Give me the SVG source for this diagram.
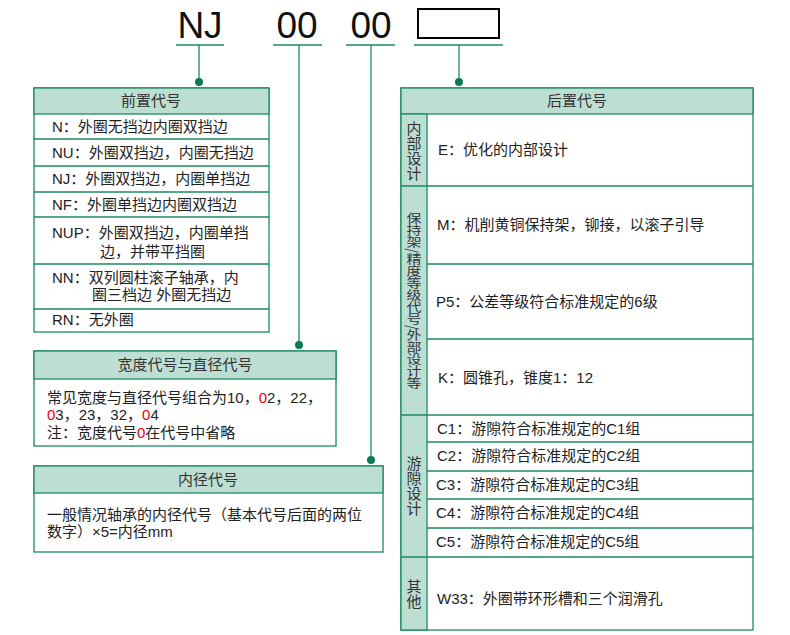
<svg xmlns="http://www.w3.org/2000/svg" width="790" height="635" viewBox="0 0 790 635">
<style>
.big{font-family:"Liberation Sans",Arial,sans-serif;font-size:37px;fill:#111;text-anchor:middle}
.t{font-family:"Liberation Sans","Noto Sans CJK SC",sans-serif;font-size:15px;fill:#222}
.h{font-family:"Noto Sans CJK SC","Noto Sans",sans-serif;font-size:15px;fill:#333;text-anchor:middle}
.v{font-family:"Noto Sans CJK SC","Noto Sans",sans-serif;font-size:15px;fill:#333;text-anchor:middle;writing-mode:tb}
.red{fill:#e60012}
.box{fill:#fff;stroke:#1b8a63;stroke-width:1.3}
.hd{fill:#bddfd3;stroke:#1b8a63;stroke-width:1.3}
.ln{stroke:#1b8a63;stroke-width:1.3;fill:none}
.dot{fill:#0d7a55}
</style>
<rect width="790" height="635" fill="#fff"/>
<g id="code">
<text class="big" x="200" y="38">NJ</text>
<text class="big" x="297" y="38">00</text>
<text class="big" x="371" y="38">00</text>
<rect x="418" y="9" width="81" height="29" fill="none" stroke="#000" stroke-width="2"/>
</g>
<g id="connectors">
<line class="ln" x1="176" y1="45" x2="224" y2="45"/>
<line class="ln" x1="273" y1="45" x2="322" y2="45"/>
<line class="ln" x1="346" y1="45" x2="395" y2="45"/>
<line class="ln" x1="414" y1="45" x2="503" y2="45"/>
<line class="ln" x1="199" y1="45" x2="199" y2="82"/>
<line class="ln" x1="299" y1="45" x2="299" y2="345"/>
<line class="ln" x1="371" y1="45" x2="371" y2="460"/>
<line class="ln" x1="459" y1="45" x2="459" y2="82"/>
<circle class="dot" cx="199" cy="82" r="4"/>
<circle class="dot" cx="299" cy="345" r="4"/>
<circle class="dot" cx="371" cy="460" r="4"/>
<circle class="dot" cx="459" cy="82" r="4"/>
</g>
<g id="prefix">
<rect class="box" x="34" y="88" width="235" height="244"/>
<rect class="hd" x="34" y="88" width="235" height="26"/>
<text class="h" x="151" y="106">前置代号</text>
<line class="ln" x1="34" y1="139" x2="269" y2="139"/>
<line class="ln" x1="34" y1="166" x2="269" y2="166"/>
<line class="ln" x1="34" y1="192" x2="269" y2="192"/>
<line class="ln" x1="34" y1="217" x2="269" y2="217"/>
<line class="ln" x1="34" y1="264" x2="269" y2="264"/>
<line class="ln" x1="34" y1="309" x2="269" y2="309"/>
<text class="t" x="52" y="132">N：外圈无挡边内圈双挡边</text>
<text class="t" x="52" y="158">NU：外圈双挡边，内圈无挡边</text>
<text class="t" x="52" y="184">NJ：外圈双挡边，内圈单挡边</text>
<text class="t" x="52" y="210">NF：外圈单挡边内圈双挡边</text>
<text class="t"><tspan x="52" y="238">NUP：外圈双挡边，内圈单挡</tspan><tspan x="100" y="257">边，并带平挡圈</tspan></text>
<text class="t"><tspan x="52" y="283">NN：双列圆柱滚子轴承，内</tspan><tspan x="92" y="300">圈三档边 外圈无挡边</tspan></text>
<text class="t" x="52" y="325">RN：无外圈</text>
</g>
<g id="width-diameter">
<rect class="box" x="34" y="351" width="302" height="95"/>
<rect class="hd" x="34" y="351" width="302" height="28"/>
<text class="h" x="185" y="370">宽度代号与直径代号</text>
<text class="t"><tspan x="47" y="403">常见宽度与直径代号组合为10，<tspan class="red">0</tspan>2，22，</tspan><tspan x="47" y="420"><tspan class="red">0</tspan>3，23，32，<tspan class="red">0</tspan>4</tspan><tspan x="47" y="438">注：宽度代号<tspan class="red">0</tspan>在代号中省略</tspan></text>
</g>
<g id="bore">
<rect class="box" x="34" y="466" width="349" height="86"/>
<rect class="hd" x="34" y="466" width="349" height="27"/>
<text class="h" x="208" y="485">内径代号</text>
<text class="t"><tspan x="47" y="520">一般情况轴承的内径代号（基本代号后面的两位</tspan><tspan x="47" y="537">数字）×5=内径mm</tspan></text>
</g>
<g id="suffix">
<rect class="box" x="401" y="88" width="352" height="542"/>
<rect class="hd" x="401" y="88" width="352" height="26"/>
<rect class="hd" x="401" y="114" width="26" height="516"/>
<text class="h" x="577" y="106">后置代号</text>
<line class="ln" x1="401" y1="186" x2="753" y2="186"/>
<line class="ln" x1="427" y1="264" x2="753" y2="264"/>
<line class="ln" x1="427" y1="339" x2="753" y2="339"/>
<line class="ln" x1="401" y1="415" x2="753" y2="415"/>
<line class="ln" x1="427" y1="442" x2="753" y2="442"/>
<line class="ln" x1="427" y1="471" x2="753" y2="471"/>
<line class="ln" x1="427" y1="499" x2="753" y2="499"/>
<line class="ln" x1="427" y1="528" x2="753" y2="528"/>
<line class="ln" x1="401" y1="557" x2="753" y2="557"/>
<text class="v" x="414" y="151">内部设计</text>
<text class="v" transform="translate(414,301) scale(1,0.8)" x="0" y="0">保持架/精度等级代号/外部设计等</text>
<text class="v" x="414" y="486">游隙设计</text>
<text class="v" x="414" y="594">其他</text>
<text class="t" x="438" y="155">E：优化的内部设计</text>
<text class="t" x="437" y="230">M：机削黄铜保持架，铆接，以滚子引导</text>
<text class="t" x="436" y="307">P5：公差等级符合标准规定的6级</text>
<text class="t" x="438" y="383">K：圆锥孔，锥度1：12</text>
<text class="t" x="437" y="434">C1：游隙符合标准规定的C1组</text>
<text class="t" x="437" y="461">C2：游隙符合标准规定的C2组</text>
<text class="t" x="436" y="490">C3：游隙符合标准规定的C3组</text>
<text class="t" x="436" y="518">C4：游隙符合标准规定的C4组</text>
<text class="t" x="436" y="547">C5：游隙符合标准规定的C5组</text>
<text class="t" x="437" y="604">W33：外圈带环形槽和三个润滑孔</text>
</g>
</svg>
